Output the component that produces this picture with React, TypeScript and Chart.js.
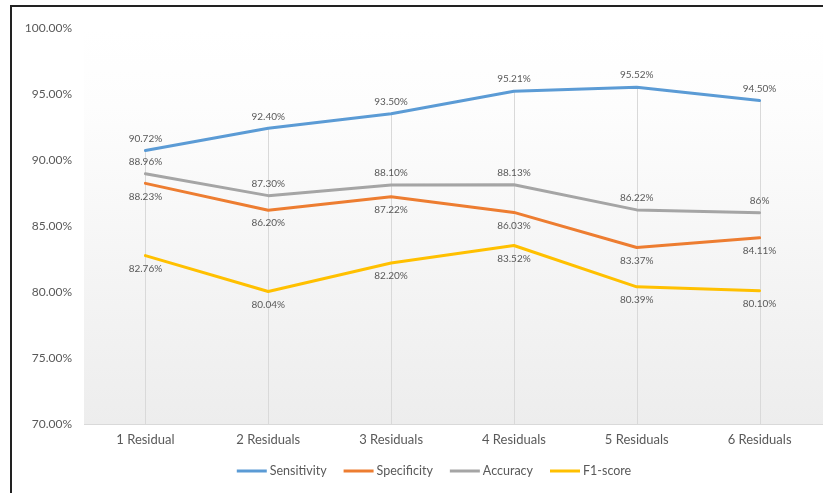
import React, { useEffect, useRef } from "react";
import { Chart, registerables } from "chart.js";

Chart.register(...registerables);

const categories = ["1 Residual", "2 Residuals", "3 Residuals", "4 Residuals", "5 Residuals", "6 Residuals"];
const seriesNames = ["Sensitivity", "Specificity", "Accuracy", "F1-score"];
const sensitivity = [90.72, 92.4, 93.5, 95.21, 95.52, 94.5];
const specificity = [88.23, 86.2, 87.22, 86.03, 83.37, 84.11];
const accuracy = [88.96, 87.3, 88.1, 88.13, 86.22, 86];
const f1score = [82.76, 80.04, 82.2, 83.52, 80.39, 80.1];
const yMin = 70;
const yMax = 100;
const yStep = 5;

const seriesColors = ["#5B9BD5", "#ED7D31", "#A5A5A5", "#FFC000"];
const labelSide = ["above", "below", "above", "below"];
const FONT = "Lato, 'Noto Sans', sans-serif";
const TEXT = "#595959";

const fmtLabel = (v: number) => (Number.isInteger(v) ? `${v}%` : `${v.toFixed(2)}%`);

const backgroundPlugin = {
  id: "bgPlot",
  beforeDraw(chart: any) {
    const { ctx, chartArea: a } = chart;
    const W = ctx.canvas.width;
    const H = ctx.canvas.height;
    ctx.save();
    ctx.fillStyle = "#ffffff";
    ctx.fillRect(0, 0, W, H);
    const g = ctx.createLinearGradient(0, a.top, 0, a.bottom);
    g.addColorStop(0, "#ffffff");
    g.addColorStop(0.2, "#fdfdfd");
    g.addColorStop(1, "#ededed");
    ctx.fillStyle = g;
    ctx.fillRect(a.left, a.top, W - a.left + 5, a.bottom - a.top);
    ctx.strokeStyle = "#d9d9d9";
    ctx.lineWidth = 1;
    ctx.beginPath();
    ctx.moveTo(a.left, Math.round(a.bottom) + 0.5);
    ctx.lineTo(W + 5, Math.round(a.bottom) + 0.5);
    ctx.stroke();
    ctx.restore();
  },
};

const dropLinesPlugin = {
  id: "dropLines",
  beforeDatasetsDraw(chart: any) {
    const { ctx, chartArea: a } = chart;
    const metas = chart.data.datasets.map((_: any, i: number) => chart.getDatasetMeta(i));
    const n = chart.data.labels.length;
    ctx.save();
    ctx.strokeStyle = "#d9d9d9";
    ctx.lineWidth = 1;
    for (let i = 0; i < n; i++) {
      let top = a.bottom;
      let x = 0;
      metas.forEach((m: any) => {
        const p = m.data[i];
        if (p) {
          top = Math.min(top, p.y);
          x = p.x;
        }
      });
      ctx.beginPath();
      ctx.moveTo(Math.round(x) + 0.5, a.bottom);
      ctx.lineTo(Math.round(x) + 0.5, top);
      ctx.stroke();
    }
    ctx.restore();
  },
};

const dataLabelPlugin = {
  id: "dataLabels",
  afterDatasetsDraw(chart: any) {
    const { ctx } = chart;
    ctx.save();
    ctx.font = `10px ${FONT}`;
    ctx.fillStyle = TEXT;
    ctx.textAlign = "center";
    ctx.textBaseline = "middle";
    chart.data.datasets.forEach((ds: any, i: number) => {
      const m = chart.getDatasetMeta(i);
      const off = labelSide[i] === "above" ? -12 : 13;
      m.data.forEach((p: any, j: number) => {
        ctx.fillText(fmtLabel(ds.data[j]), p.x, p.y + off);
      });
    });
    ctx.restore();
  },
};

const legendPlugin = {
  id: "customLegend",
  afterDraw(chart: any) {
    const { ctx } = chart;
    const lineLen = 30;
    const gap = 3;
    const itemGap = 17;
    const cy = 471;
    const cx = 434;
    ctx.save();
    ctx.font = `12.5px ${FONT}`;
    const items = chart.data.datasets.map((ds: any) => ({
      label: ds.label,
      color: ds.borderColor,
      w: ctx.measureText(ds.label).width,
    }));
    const total =
      items.reduce((s: number, it: any) => s + lineLen + gap + it.w, 0) + itemGap * (items.length - 1);
    let x = cx - total / 2;
    items.forEach((it: any) => {
      ctx.strokeStyle = it.color;
      ctx.lineWidth = 3;
      ctx.beginPath();
      ctx.moveTo(x, cy);
      ctx.lineTo(x + lineLen, cy);
      ctx.stroke();
      ctx.fillStyle = TEXT;
      ctx.textAlign = "left";
      ctx.textBaseline = "middle";
      ctx.fillText(it.label, x + lineLen + gap, cy);
      x += lineLen + gap + it.w + itemGap;
    });
    ctx.restore();
  },
};

export default function App() {
  const ref = useRef<HTMLCanvasElement | null>(null);

  useEffect(() => {
    if (!ref.current) return;
    const series = [sensitivity, specificity, accuracy, f1score];
    const chart = new Chart(ref.current, {
      type: "line",
      data: {
        labels: categories,
        datasets: series.map((d, i) => ({
          label: seriesNames[i],
          data: d,
          borderColor: seriesColors[i],
          backgroundColor: seriesColors[i],
          borderWidth: 3,
          pointRadius: 0,
          pointHoverRadius: 0,
          tension: 0,
          fill: false,
          borderCapStyle: "round",
          borderJoinStyle: "round",
        })),
      },
      options: {
        responsive: false,
        animation: false,
        layout: { padding: { top: 28, right: 2, bottom: 38, left: 0 } },
        plugins: {
          legend: { display: false },
          tooltip: { enabled: false },
        },
        scales: {
          x: {
            type: "category",
            offset: true,
            grid: { display: false, drawTicks: false },
            border: { display: false },
            ticks: { color: TEXT, font: { family: FONT, size: 13 }, padding: 8, maxRotation: 0 },
            afterFit: (s: any) => {
              s.height = 31;
            },
          },
          y: {
            min: yMin,
            max: yMax,
            grid: { display: false, drawTicks: false },
            border: { display: false },
            ticks: {
              stepSize: yStep,
              color: TEXT,
              padding: 12,
              font: { family: FONT, size: 12 },
              callback: (v: any) => `${Number(v).toFixed(2)}%`,
            },
            afterFit: (s: any) => {
              s.width = 84;
            },
          },
        },
      },
      plugins: [backgroundPlugin, dropLinesPlugin, dataLabelPlugin, legendPlugin],
    } as any);
    return () => chart.destroy();
  }, []);

  return (
    <div style={{ position: "fixed", left: 0, top: 0, width: 823, height: 493, overflow: "hidden", background: "#fff" }}>
      <canvas ref={ref} width={823} height={493} style={{ position: "absolute", left: 0, top: 0, width: 823, height: 493 }} />
      <div
        style={{
          position: "absolute",
          left: 10,
          top: 5,
          width: 1000,
          height: 1000,
          borderLeft: "2px solid #222",
          borderTop: "2px solid #222",
          pointerEvents: "none",
        }}
      />
    </div>
  );
}
